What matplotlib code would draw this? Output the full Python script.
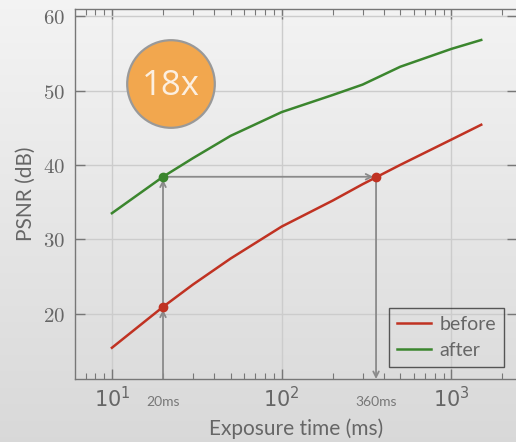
import numpy as np
import matplotlib
matplotlib.use("Agg")
from matplotlib import pyplot as plt
from matplotlib.patches import Ellipse
from matplotlib.ticker import LogLocator, NullFormatter

# data
exposure_ms = [10, 20, 30, 50, 100, 200, 300, 500, 1000, 1500]
psnr_before = [15.4, 20.9, 23.9, 27.4, 31.7, 35.2, 37.4, 40.0, 43.4, 45.4]
psnr_after = [33.5, 38.4, 40.9, 43.9, 47.1, 49.4, 50.8, 53.2, 55.6, 56.8]
t_short, t_long = 20, 360
psnr_match = 38.4
psnr_short_before = 20.9
speedup_label = "18x"

red = "#c03222"
green = "#3b862e"
grey = "#8a8a8a"
text_grey = "#666666"

plt.rcParams["mathtext.fontset"] = "cm"

W, H = 516, 442
fig = plt.figure(figsize=(W / 100, H / 100), dpi=100)

# gradient background
bg = fig.add_axes([0, 0, 1, 1], zorder=-10)
grad = np.linspace(0.955, 0.85, 256).reshape(-1, 1)
bg.imshow(np.dstack([grad, grad, grad]), aspect="auto", extent=[0, 1, 0, 1])
bg.set_axis_off()

ax = fig.add_axes([75 / W, 1 - 379 / H, (517 - 75) / W, (379 - 9.5) / H])
ax.patch.set_alpha(0)

ax.plot(exposure_ms, psnr_before, color=red, lw=1.8, label="before", zorder=3)
ax.plot(exposure_ms, psnr_after, color=green, lw=1.8, label="after", zorder=3)

ax.set_xscale("log")
ax.set_xlim(6.06, 2437)
ax.set_ylim(11.2, 60.9)

# annotation arrows
ymin = ax.get_ylim()[0]
arrow_kw = dict(arrowstyle="->", color=grey, lw=1.3, shrinkA=0, shrinkB=2,
                mutation_scale=10)
ax.annotate("", xy=(t_short, psnr_short_before), xytext=(t_short, ymin), arrowprops=arrow_kw, zorder=2)
ax.annotate("", xy=(t_short, psnr_match), xytext=(t_short, psnr_short_before), arrowprops=arrow_kw, zorder=2)
ax.annotate("", xy=(t_long, psnr_match), xytext=(t_short, psnr_match), arrowprops=arrow_kw, zorder=2)
ax.annotate("", xy=(t_long, ymin), xytext=(t_long, psnr_match), arrowprops=dict(arrow_kw, shrinkB=0), zorder=2)
ax.plot([t_short, t_long], [psnr_short_before, psnr_match], "o", color=red, ms=6, zorder=4)
ax.plot([t_short], [psnr_match], "o", color=green, ms=6, zorder=4)

# ticks
ax.set_yticks([20, 30, 40, 50, 60])
ax.set_yticklabels([f"${v}$" for v in [20, 30, 40, 50, 60]])
ax.xaxis.set_major_locator(LogLocator(base=10, numticks=10))
ax.xaxis.set_minor_locator(LogLocator(base=10, subs=np.arange(2, 10), numticks=10))
ax.xaxis.set_minor_formatter(NullFormatter())
ax.tick_params(which="both", direction="in", top=True, right=True, colors="#777777",
               labelcolor=text_grey, labelsize=15)
ax.tick_params(which="major", length=7, width=1)
ax.tick_params(which="minor", length=4, width=0.8)
ax.tick_params(axis="y", pad=7)
ax.tick_params(axis="x", pad=5)
ax.grid(True, which="major", color="#cccccc", lw=1, zorder=0)
for s in ax.spines.values():
    s.set_color("#777777")
    s.set_linewidth(1)

ax.text(t_short, -0.045, f"{t_short}ms", transform=ax.get_xaxis_transform(),
        ha="center", va="top", fontsize=10, color="#777777", family="Lato")
ax.text(t_long, -0.045, f"{t_long}ms", transform=ax.get_xaxis_transform(),
        ha="center", va="top", fontsize=10, color="#777777", family="Lato")

ax.set_xlabel("Exposure time (ms)", fontsize=15, color=text_grey, family="Lato", labelpad=5)
ax.set_ylabel("PSNR (dB)", fontsize=15, color=text_grey, family="Lato", labelpad=5)

leg = ax.legend(loc="lower right", bbox_to_anchor=((504 - 75) / (517 - 75), (379 - 367) / (379 - 9.5)),
                frameon=True, fancybox=False, fontsize=14, handlelength=1.75,
                handletextpad=0.45, borderpad=0.4, labelspacing=0.5, borderaxespad=0)
leg.get_frame().set_edgecolor("#333333")
leg.get_frame().set_facecolor("none")
leg.get_frame().set_linewidth(1)
for t in leg.get_texts():
    t.set_color(text_grey)
    t.set_family("Lato")

# speedup bubble
cx, cy, r = 171 / W, 1 - 84 / H, 43.8
fig.patches.append(Ellipse((cx, cy), 2 * r / W, 2 * r / H, transform=fig.transFigure,
                           facecolor="#f2a74e", edgecolor="#999999", lw=1.6, zorder=5))
fig.text(cx, cy - 0.004, speedup_label, ha="center", va="center", fontsize=25, color="#fcefe0",
         family="Open Sans", zorder=6)

fig.savefig("out.png", dpi=100)
